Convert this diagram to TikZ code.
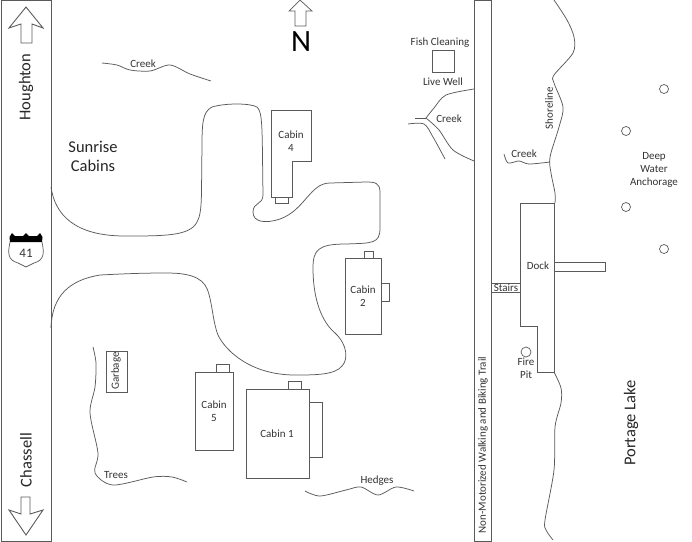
\documentclass[tikz,border=0pt]{standalone}
\usepackage{fontspec}
\setmainfont{Carlito}
\definecolor{lineGray}{HTML}{5A5A5A}
\definecolor{textGray}{HTML}{333333}
\tikzset{
    outline/.style={draw=lineGray, line width=0.9pt, line join=miter},
    wavy/.style={draw=lineGray, line width=0.75pt},
    small/.style={text=textGray, font=\fontsize{11}{11}\selectfont, inner sep=0pt, align=center},
    big/.style={text=black!85, font=\fontsize{16.5}{17}\selectfont, inner sep=0pt, align=center},
}
\begin{document}
\begin{tikzpicture}[x=1pt, y=-1pt]
    \useasboundingbox (0,0) rectangle (692,541);
    % highway
    \draw[outline] (1,0) rectangle (51,541);
    \draw[outline] (26,7) -- (43,28) -- (32,24) -- (32,43) -- (21,43) -- (21,24) -- (9,28) -- cycle;
    \draw[outline] (26,535) -- (43,510) -- (30,514) -- (30,497) -- (21,497) -- (21,514) -- (9,510) -- cycle;
    \node[big, rotate=90] (houghton) at (26,87) {Houghton};
    \node[big, rotate=90] (chassell) at (26,460) {Chassell};
    % shield
    \fill (10,242) -- (9.5,237) -- (12,233) -- (15,236) -- (23,236) -- (26,233) -- (29,236) -- (37,236) -- (40,233) -- (42.5,237) -- (42,242) -- cycle;
    \draw[outline, line width=0.7pt] (10,242) .. controls (8,252) and (7,260) .. (18,263) -- (26,267) -- (34,263) .. controls (45,260) and (44,252) .. (42,242);
    \node[small, font=\fontsize{13}{13}\selectfont] (route) at (26,253) {41};
    % north
    \draw[outline, line width=0.7pt] (300,0) -- (312,11) -- (306,11) -- (306,26) -- (295,26) -- (295,11) -- (289,11) -- cycle;
    \node[inner sep=0pt, font=\fontsize{31}{31}\selectfont] (north) at (301,42) {N};
    \node[big] (sunrise) at (93,147) {Sunrise};
    \node[big] (cabins) at (93,166) {Cabins};
    % drive
    \draw[wavy] (51,187) .. controls (55,215) and (75,236) .. (125,236) .. controls (165,236) and (190,236) .. (197,222)
        .. controls (203,212) and (201,190) .. (202,150) .. controls (202,125) and (202,112) .. (212,107)
        .. controls (225,103) and (250,103) .. (257,107) .. controls (263,112) and (262,130) .. (263,195)
        .. controls (263,205) and (253,202) .. (253,212) .. controls (253,222) and (265,224) .. (280,219)
        .. controls (305,210) and (310,183) .. (330,183) -- (366,182) .. controls (375,182) and (380,183) .. (380,192)
        -- (380,228) .. controls (380,244) and (372,243) .. (346,244) .. controls (318,244) and (313,250) .. (313,268)
        .. controls (313,300) and (322,322) .. (335,333) .. controls (348,345) and (348,360) .. (342,366)
        .. controls (335,375) and (315,375) .. (295,375) .. controls (250,375) and (225,350) .. (218,335)
        .. controls (212,320) and (212,295) .. (205,285) .. controls (197,273) and (175,273) .. (165,273)
        .. controls (140,273) and (120,274) .. (100,275) .. controls (70,280) and (52,295) .. (51,328);
    % cabins
    \draw[outline] (271,110) -- (311,110) -- (311,161) -- (292,161) -- (292,197) -- (271,197) -- cycle;
    \draw[outline] (275,197) rectangle (288,203);
    \draw[outline] (345,258) rectangle (381,334);
    \draw[outline] (364,251) rectangle (373,258);
    \draw[outline] (381,283) rectangle (389,301);
    \draw[outline] (246,389) rectangle (309,478);
    \draw[outline] (288,381) rectangle (301,389);
    \draw[outline] (309,402) rectangle (322,457);
    \draw[outline] (195,372) rectangle (233,450);
    \draw[outline] (216,364) rectangle (229,372);
    \draw[outline] (106,351) rectangle (127,392);
    \node[small] (cabinfour) at (291,141.5) {Cabin\\[2pt]4};
    \node[small] (cabintwo) at (363,296.5) {Cabin\\[2pt]2};
    \node[small] (cabinone) at (277,434) {Cabin 1};
    \node[small] (cabinfive) at (214,411.5) {Cabin\\[2pt]5};
    \node[small, rotate=90] (garbage) at (116,371) {Garbage};
    % trees and hedges
    \draw[wavy] plot[smooth] coordinates {(93,347) (96,363) (95,387) (90,413) (98,453) (95,473) (113,485) (153,477) (172,477) (187,482)};
    \node[small] (trees) at (116,475) {Trees};
    \draw[wavy] plot[smooth] coordinates {(305,491) (320,496) (346,490) (361,487) (378,495) (396,487) (414,491)};
    \node[small] (hedges) at (377,481) {Hedges};
    % creeks
    \draw[wavy] plot[smooth] coordinates {(102,63) (117,65) (130,70) (150,71) (170,65) (190,74) (211,81)};
    \node[small] (creekone) at (143,64) {Creek};
    \draw[wavy] plot[smooth] coordinates {(474,89) (446,95) (434,108) (426,118)};
    \draw[wavy] (415,118) -- (426,118);
    \draw[wavy] plot[smooth] coordinates {(426,118) (439,130) (453,150) (474,161)};
    \draw[wavy] plot[smooth] coordinates {(408,124) (424,124) (433,137) (445,159)};
    \node[small] (creektwo) at (449,119) {Creek};
    \draw[wavy] plot[smooth] coordinates {(504,154) (508,163) (519,161) (529,164) (550,162)};
    \node[small] (creekthree) at (524,154) {Creek};
    % fish cleaning
    \draw[outline] (432,50) rectangle (454,72);
    \node[small] (fish) at (440,43) {Fish Cleaning};
    \node[small] (well) at (443,82) {Live Well};
    % trail
    \draw[outline] (474,0) rectangle (491,541);
    \node[small, rotate=90] (trail) at (483,445) {Non-Motorized Walking and Biking Trail};
    % shore
    \draw[wavy] plot[smooth] coordinates {(554,0) (567,20) (574,37) (573,53) (554,75) (554,83) (563,107) (559,127) (550,157) (551,173) (555,193) (555,203)};
    \draw[wavy] plot[smooth] coordinates {(554,372) (561,388) (561,403) (555,427) (554,470) (545,520) (546,530) (553,540)};
    \node[small, rotate=90] (shoreline) at (549,108) {Shoreline};
    % dock
    \draw[outline] (520,203) -- (554,203) -- (554,372) -- (537,372) -- (537,326) -- (520,326) -- cycle;
    \draw[outline] (554,262) rectangle (605,271);
    \draw[outline] (491,283) rectangle (520,292);
    \node[small] (dock) at (538,266) {Dock};
    \node[small] (stairs) at (506,288) {Stairs};
    \draw[outline, line width=0.7pt] (526,352) circle (5);
    \node[small] (fire) at (526,368.5) {Fire\\[2pt]Pit};
    % anchorage
    \foreach \x/\y in {664/89, 626/131, 626/207, 664/249}{
        \draw[outline, line width=0.7pt] (\x,\y) circle (4.5);
    }
    \node[small] (deep) at (654,169.5) {Deep\\[2pt]Water\\[2pt]Anchorage};
    \node[big, rotate=90] (lake) at (631,423) {Portage Lake};
\end{tikzpicture}
\end{document}
